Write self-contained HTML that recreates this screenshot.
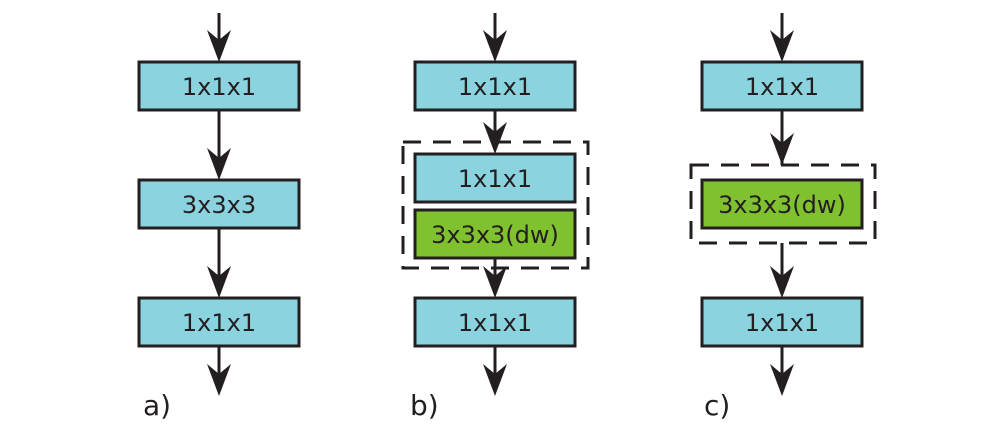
<!DOCTYPE html>
<html><head><style>html,body{margin:0;padding:0;background:#fff;}svg{display:block}</style></head>
<body>
<svg width="1001" height="428" viewBox="0 0 1001 428" xmlns="http://www.w3.org/2000/svg" font-family="'DejaVu Sans','Liberation Sans',sans-serif">
<defs>
<g id="ah"><polygon points="-12,-32 0,-22 12,-32 0,0" fill="#231f20"/></g>
</defs>
<g stroke="#231f20" stroke-width="3">
<line x1="219" y1="13" x2="219" y2="50"/>
<line x1="219" y1="110" x2="219" y2="168"/>
<line x1="219" y1="228" x2="219" y2="286"/>
<line x1="219" y1="346" x2="219" y2="384"/>
<line x1="495" y1="13" x2="495" y2="50"/>
<line x1="495" y1="110" x2="495" y2="142"/>
<line x1="495" y1="258" x2="495" y2="286"/>
<line x1="495" y1="346" x2="495" y2="384"/>
<line x1="782" y1="13" x2="782" y2="50"/>
<line x1="782" y1="110" x2="782" y2="165"/>
<line x1="782" y1="243" x2="782" y2="286"/>
<line x1="782" y1="346" x2="782" y2="384"/>
</g>
<g>
<use href="#ah" x="219" y="62"/><use href="#ah" x="219" y="180"/><use href="#ah" x="219" y="298"/><use href="#ah" x="219" y="396"/>
<use href="#ah" x="495" y="62"/><use href="#ah" x="495" y="154"/><use href="#ah" x="495" y="298"/><use href="#ah" x="495" y="396"/>
<use href="#ah" x="782" y="62"/><use href="#ah" x="782" y="165"/><use href="#ah" x="782" y="298"/><use href="#ah" x="782" y="396"/>
</g>
<g fill="none" stroke="#231f20" stroke-width="3" stroke-dasharray="18,12">
<rect x="403" y="142" width="185" height="126"/>
<rect x="691" y="165" width="184" height="78"/>
</g>
<g stroke="#231f20" stroke-width="3">
<rect x="139" y="62" width="160" height="48" fill="#8cd3e0"/>
<rect x="139" y="180" width="160" height="48" fill="#8cd3e0"/>
<rect x="139" y="298" width="160" height="48" fill="#8cd3e0"/>
<rect x="415" y="62" width="160" height="48" fill="#8cd3e0"/>
<rect x="415" y="154" width="160" height="48" fill="#8cd3e0"/>
<rect x="415" y="210" width="160" height="48" fill="#80c130"/>
<rect x="415" y="298" width="160" height="48" fill="#8cd3e0"/>
<rect x="702" y="62" width="160" height="48" fill="#8cd3e0"/>
<rect x="702" y="180" width="160" height="48" fill="#80c130"/>
<rect x="702" y="298" width="160" height="48" fill="#8cd3e0"/>
</g>
<g font-size="24" fill="#231f20" text-anchor="middle">
<text x="219" y="95">1x1x1</text>
<text x="219" y="213">3x3x3</text>
<text x="219" y="331">1x1x1</text>
<text x="495" y="95">1x1x1</text>
<text x="495" y="187">1x1x1</text>
<text x="495" y="243">3x3x3(dw)</text>
<text x="495" y="331">1x1x1</text>
<text x="782" y="95">1x1x1</text>
<text x="782" y="213">3x3x3(dw)</text>
<text x="782" y="331">1x1x1</text>
</g>
<g font-size="28" fill="#231f20">
<text x="143" y="415">a)</text>
<text x="410" y="415">b)</text>
<text x="704" y="415">c)</text>
</g>
</svg>
</body></html>
